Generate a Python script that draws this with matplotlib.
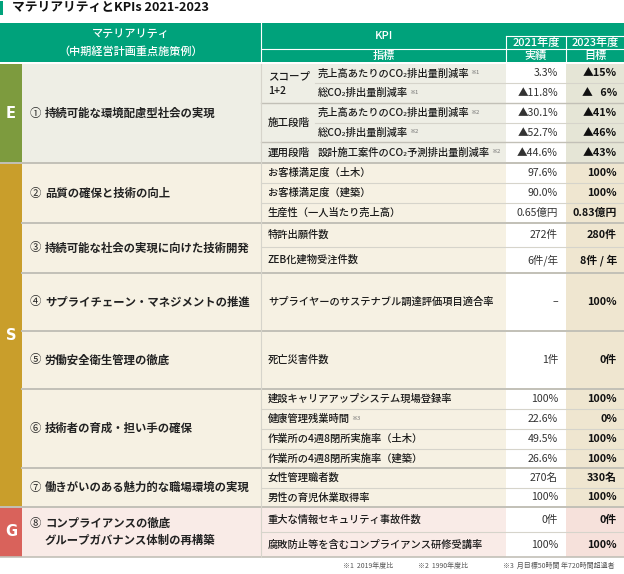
import matplotlib.pyplot as plt
from matplotlib.patches import Rectangle

plt.rcParams['font.family'] = ['Noto Sans CJK JP', 'DejaVu Sans']

#table data##########################################
sections = ['E', 'S', 'G']
section_rows = [5, 13, 2]

materiality_no = ['①', '②', '③', '④', '⑤', '⑥', '⑦', '⑧']
materiality = ['持続可能な環境配慮型社会の実現',
               '品質の確保と技術の向上',
               '持続可能な社会の実現に向けた技術開発',
               'サプライチェーン・マネジメントの推進',
               '労働安全衛生管理の徹底',
               '技術者の育成・担い手の確保',
               '働きがいのある魅力的な職場環境の実現',
               'コンプライアンスの徹底\nグループガバナンス体制の再構築']
materiality_rows = [5, 3, 2, 1, 1, 4, 2, 2]

scope_labels = ['スコープ\n1+2', '施工段階', '運用段階']
scope_rows = [2, 2, 1]

indicators = ['売上高あたりのCO₂排出量削減率', '総CO₂排出量削減率',
              '売上高あたりのCO₂排出量削減率', '総CO₂排出量削減率',
              '設計施工案件のCO₂予測排出量削減率',
              'お客様満足度（土木）', 'お客様満足度（建築）', '生産性（一人当たり売上高）',
              '特許出願件数', 'ZEB化建物受注件数',
              'サプライヤーのサステナブル調達評価項目適合率',
              '死亡災害件数',
              '建設キャリアアップシステム現場登録率', '健康管理残業時間',
              '作業所の4週8閉所実施率（土木）', '作業所の4週8閉所実施率（建築）',
              '女性管理職者数', '男性の育児休業取得率',
              '重大な情報セキュリティ事故件数', '腐敗防止等を含むコンプライアンス研修受講率']
notes = ['※1', '※1', '※2', '※2', '※2',
         '', '', '', '', '', '', '',
         '', '※3', '', '', '', '', '', '']
actual_2021 = ['3.3%', '▲11.8%', '▲30.1%', '▲52.7%', '▲44.6%',
               '97.6%', '90.0%', '0.65億円', '272件', '6件/年', '–', '1件',
               '100%', '22.6%', '49.5%', '26.6%', '270名', '100%', '0件', '100%']
target_2023 = ['▲15%', '▲   6%', '▲41%', '▲46%', '▲43%',
               '100%', '100%', '0.83億円', '280件', '8件 / 年', '100%', '0件',
               '100%', '0%', '100%', '100%', '330名', '100%', '0件', '100%']

footnotes = ['※1  2019年度比', '※2  1990年度比', '※3  月目標50時間 年720時間超過者']

#layout and colors##################################
row_h = [19, 20, 20, 19, 21, 20, 20, 20, 24, 26, 58, 58, 20, 20, 20, 19, 20, 19, 25, 25]
top = 64
x_mat, x_kpi, x_act, x_tgt, x_end = 22, 261, 506, 566, 624

green = '#00a27b'
sec_color = {'E': '#7d9b3e', 'S': '#c99e2b', 'G': '#d9625b'}
sec_bg = {'E': '#eeeee5', 'S': '#f6f1e3', 'G': '#f9ebe7'}
sec_tgt = {'E': '#e5e5d6', 'S': '#efe6d0', 'G': '#f6e1db'}
thin_line = '#d6d4cb'
group_line = '#c2c0b7'

fig = plt.figure(figsize=(6.24, 5.74), dpi=100)
ax = fig.add_axes([0, 0, 1, 1])
ax.set_xlim(0, 624)
ax.set_ylim(574, 0)
ax.axis('off')
renderer = fig.canvas.get_renderer()


def add_note(t, note, size=4.3):
    # small superscript note right after a text
    bb = t.get_window_extent(renderer)
    x1, y1 = ax.transData.inverted().transform((bb.x1, bb.y1))
    ax.text(x1 + 1, y1 + 2, note, fontsize=size, color='#777777', va='top', ha='left')


#title###########################################
ax.add_patch(Rectangle((0, 1), 3, 14, color=green, lw=0))
ax.text(12, 8, 'マテリアリティとKPIs 2021-2023', fontsize=9.2, fontweight='bold',
        va='center', ha='left', color='#111111')

#header##########################################
ax.add_patch(Rectangle((0, 23), x_end, 39, color=green, lw=0))
ax.plot([x_kpi, x_kpi], [23, 62], color='white', lw=0.8)
ax.plot([x_kpi, x_end], [49, 49], color='white', lw=0.8)
ax.plot([x_act, x_end], [36, 36], color='white', lw=0.8)
ax.plot([x_act, x_act], [36, 62], color='white', lw=0.8)
ax.plot([x_tgt, x_tgt], [36, 62], color='white', lw=0.8)
hdr = dict(color='white', fontsize=8.0, fontweight='medium', ha='center', va='center')
ax.text(x_kpi / 2, 34, 'マテリアリティ', **hdr)
ax.text(x_kpi / 2, 51, '（中期経営計画重点施策例）', **hdr)
ax.text((x_kpi + x_act) / 2, 36, 'KPI', **hdr)
ax.text((x_kpi + x_act) / 2, 56, '指標', **hdr)
ax.text((x_act + x_tgt) / 2, 43, '2021年度', **hdr)
ax.text((x_tgt + x_end) / 2, 43, '2023年度', **hdr)
ax.text((x_act + x_tgt) / 2, 56, '実績', **hdr)
ax.text((x_tgt + x_end) / 2, 56, '目標', **hdr)

#row positions###################################
row_y = [top]
for h in row_h:
    row_y.append(row_y[-1] + h)

#section backgrounds#############################
i = 0
sec_starts = []
for sec, n in zip(sections, section_rows):
    y0, y1 = row_y[i], row_y[i + n]
    ax.add_patch(Rectangle((0, y0), x_mat, y1 - y0, color=sec_color[sec], lw=0))
    ax.add_patch(Rectangle((x_mat, y0), x_act - x_mat, y1 - y0, color=sec_bg[sec], lw=0))
    ax.add_patch(Rectangle((x_act, y0), x_tgt - x_act, y1 - y0, color='white', lw=0))
    ax.add_patch(Rectangle((x_tgt, y0), x_end - x_tgt, y1 - y0, color=sec_tgt[sec], lw=0))
    ax.text(x_mat / 2, (y0 + y1) / 2, sec, color='white', fontsize=10.5, fontweight='bold',
            ha='center', va='center', family='DejaVu Sans')
    sec_starts.append(i)
    i += n

#row lines#######################################
group_starts = []
i = 0
for n in materiality_rows:
    group_starts.append(i)
    i += n
scope_starts = [0, 2, 4]

for r in range(1, len(row_h)):
    y = row_y[r]
    if r in group_starts:
        ax.plot([0 if r in sec_starts else x_mat, x_end], [y, y], color=group_line, lw=1.4, zorder=3)
    elif r < 5 and r not in scope_starts:
        ax.plot([315, x_end], [y, y], color=thin_line, lw=0.8, zorder=3)
    elif r < 5:
        ax.plot([x_kpi, x_end], [y, y], color=group_line, lw=1.0, zorder=3)
    else:
        ax.plot([x_kpi, x_end], [y, y], color=thin_line, lw=0.8, zorder=3)
ax.plot([0, x_end], [row_y[-1], row_y[-1]], color=group_line, lw=1.2, zorder=3)
ax.plot([x_kpi, x_kpi], [top, row_y[-1]], color=thin_line, lw=0.8, zorder=3)

#materiality text################################
i = 0
for no, name, n in zip(materiality_no, materiality, materiality_rows):
    yc = (row_y[i] + row_y[i + n]) / 2
    lines = name.split('\n')
    ax.text(30, yc - 8.5 * (len(lines) - 1), no, fontsize=8.2, ha='left', va='center', color='#222222')
    for k, line in enumerate(lines):
        ax.text(45, yc + (k - (len(lines) - 1) / 2) * 17, line, fontsize=8.2, fontweight='bold',
                ha='left', va='center', color='#222222')
    i += n

#scope labels (E section)#########################
i = 0
for lab, n in zip(scope_labels, scope_rows):
    yc = (row_y[i] + row_y[i + n]) / 2
    ax.text(268, yc, lab, fontsize=7.6, fontweight='medium', ha='left', va='center',
            color='#1a1a1a', linespacing=1.5)
    i += n

#kpi rows########################################
for r, (ind, note, a, t) in enumerate(zip(indicators, notes, actual_2021, target_2023)):
    yc = (row_y[r] + row_y[r + 1]) / 2
    x0 = 318 if r < 5 else 268
    txt = ax.text(x0, yc, ind, fontsize=7.4, fontweight='medium', ha='left', va='center',
                  color='#1a1a1a')
    if note:
        add_note(txt, note)
    ax.text(x_tgt - 8, yc, a, fontsize=7.6, ha='right', va='center', color='#333333')
    ax.text(x_end - 7, yc, t, fontsize=7.8, fontweight='bold', ha='right', va='center', color='#111111')

#footnotes#######################################
for x, s in zip([343, 418, 503], footnotes):
    ax.text(x, 566, s, fontsize=5.0, ha='left', va='center', color='#555555')

fig.savefig('out.png', dpi=100)
